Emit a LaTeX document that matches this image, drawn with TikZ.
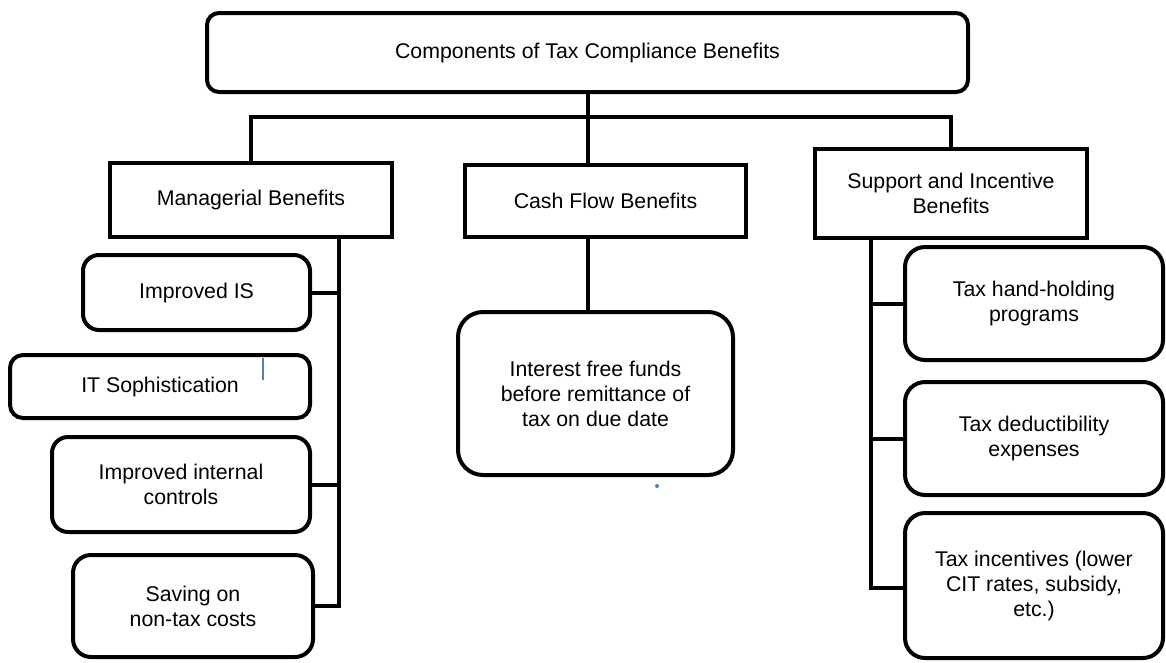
\documentclass[tikz,border=0pt]{standalone}
\usepackage{fontspec}
\setmainfont{Liberation Sans}
\begin{document}
\begin{tikzpicture}[x=1pt,y=-1pt,
  every node/.style={font=\fontsize{21.3}{25}\selectfont, align=center, inner sep=0pt, line width=4pt, draw=black},
  sqbox/.style={rectangle},
  rbox/.style={rectangle, rounded corners=16pt},
  conn/.style={line width=4pt, line cap=rect},
  stray/.style={draw=none}]
\useasboundingbox (0,0) rectangle (1166,662);
\newcommand{\bx}[7]{\node[#1, minimum width=#4-#2, minimum height=#5-#3] (#6) at ({(#2+#4)/2},{(#3+#5)/2}) {#7};}
% top
\node[rbox, rounded corners=12pt, minimum width=761pt, minimum height=79pt] (top) at (587.5,52.5) {Components of Tax Compliance Benefits};
% level 1
\node[sqbox, minimum width=282pt, minimum height=74pt] (mgr) at (251,200) {Managerial Benefits};
\node[sqbox, minimum width=281pt, minimum height=72pt] (cash) at (605.5,201) {Cash Flow Benefits};
\node[sqbox, minimum width=272pt, minimum height=89pt] (sup) at (951,193.5) {Support and Incentive\\Benefits};
% managerial children
\node[rbox, minimum width=227pt, minimum height=75pt] (is) at (196.5,292.5) {Improved IS};
\node[rbox, rounded corners=13pt, minimum width=300pt, minimum height=63pt] (it) at (160,386.5) {IT Sophistication};
\node[rbox, minimum width=258pt, minimum height=95pt] (ctl) at (181,484.5) {Improved internal\\controls};
\node[rbox, rounded corners=18pt, minimum width=240pt, minimum height=102pt] (sav) at (193,606) {Saving on\\non-tax costs};
% cash child
\node[rbox, rounded corners=25pt, minimum width=275pt, minimum height=163pt] (int) at (595.5,393.5) {Interest free funds\\before remittance of\\tax on due date};
% support children
\node[rbox, rounded corners=20pt, minimum width=258pt, minimum height=113pt] (hh) at (1034,303.5) {Tax hand-holding\\programs};
\node[rbox, rounded corners=20pt, minimum width=258pt, minimum height=113pt] (ded) at (1034,438.5) {Tax deductibility\\expenses};
\node[rbox, rounded corners=20pt, minimum width=258pt, minimum height=145pt] (inc) at (1034,585.5) {Tax incentives (lower\\CIT rates, subsidy,\\etc.)};
% spine coordinates
\coordinate (bar) at (0,117);
\coordinate (mspine) at (339,0);
\coordinate (sspine) at (871,0);
% top connectors
\draw[conn] (top.south) -- (cash.north -| top.south);
\draw[conn] (mgr.north) -- (mgr.north |- bar) -- (sup.north |- bar) -- (sup.north);
% cash connector
\draw[conn] (cash.south -| top.south) -- (int.north -| top.south);
% managerial spine
\draw[conn] (mgr.south -| mspine) -- (sav.east -| mspine) -- (sav.east);
\draw[conn] (is.east) -- (is.east -| mspine);
\draw[conn] (ctl.east) -- (ctl.east -| mspine);
% support spine
\coordinate (incc) at (0,588);
\draw[conn] (sup.south -| sspine) -- (incc -| sspine) -- (incc -| inc.west);
\draw[conn] (hh.west) -- (hh.west -| sspine);
\draw[conn] (ded.west) -- (ded.west -| sspine);
% stray blue marks
\draw[color={rgb,255:red,79;green,129;blue,189}, line width=1.6pt] (263,358) -- (263,380);
\fill[color={rgb,255:red,79;green,129;blue,189}] (657,486) circle (2pt);
\end{tikzpicture}
\end{document}
